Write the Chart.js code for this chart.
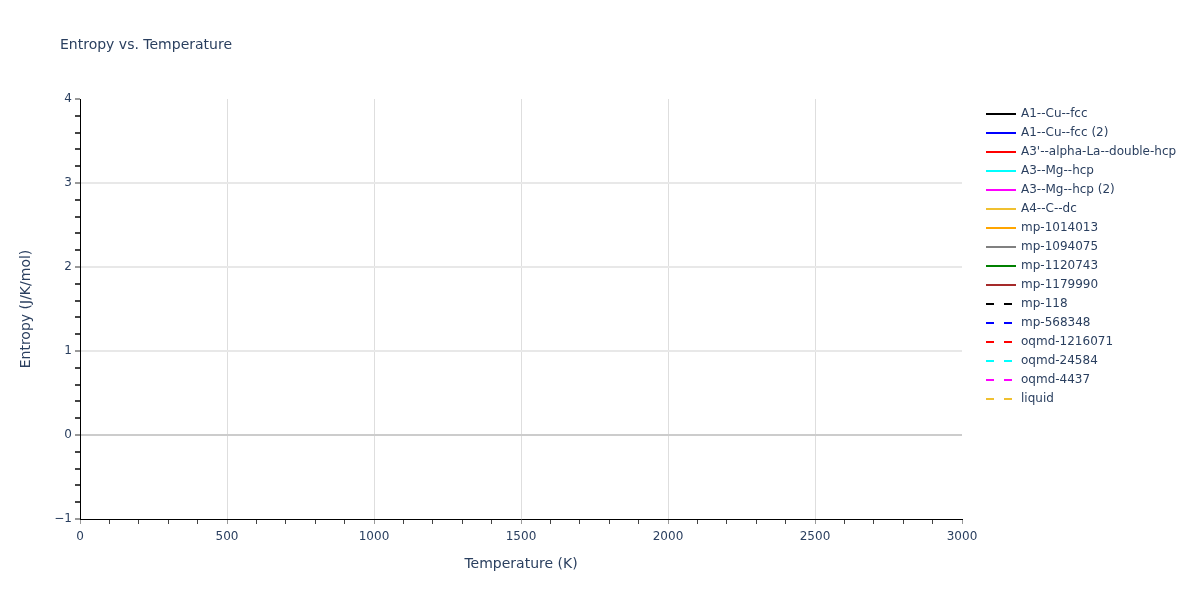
<!DOCTYPE html>
<html>
<head>
<meta charset="utf-8">
<script src="https://cdn.jsdelivr.net/npm/chart.js@4.4.0/dist/chart.umd.min.js"></script>
<style>
html,body{margin:0;padding:0;background:#fff;}
#wrap{width:1200px;height:600px;position:relative;}
</style>
</head>
<body>
<div id="wrap"><canvas id="c" width="1200" height="600"></canvas></div>
<script>
// ---- data ----
const chartTitle = "Entropy vs. Temperature";
const xTitle = "Temperature (K)";
const yTitle = "Entropy (J/K/mol)";
const seriesNames = ["A1--Cu--fcc","A1--Cu--fcc (2)","A3'--alpha-La--double-hcp","A3--Mg--hcp","A3--Mg--hcp (2)","A4--C--dc","mp-1014013","mp-1094075","mp-1120743","mp-1179990","mp-118","mp-568348","oqmd-1216071","oqmd-24584","oqmd-4437","liquid"];
const seriesColors = ["#000000","#0000ff","#ff0000","#00ffff","#ff00ff","#f0c030","#ffa500","#808080","#008000","#a52a2a","#000000","#0000ff","#ff0000","#00ffff","#ff00ff","#f0c030"];
const seriesDashed = [false,false,false,false,false,false,false,false,false,false,true,true,true,true,true,true];
// no values are visible in the reference plot area: every series is empty
const seriesTemps = seriesNames.map(() => []);
const seriesEntropy = seriesNames.map(() => []);
const xRange = [0, 3000];
const yRange = [-1, 4];

const textColor = "#2a3f5f";
const fontFam = "'DejaVu Sans', Verdana, sans-serif";

const datasets = seriesNames.map((n, i) => ({
  label: n,
  data: seriesTemps[i].map((t, j) => ({x: t, y: seriesEntropy[i][j]})),
  borderColor: seriesColors[i],
  backgroundColor: seriesColors[i],
  borderWidth: 2,
  borderDash: seriesDashed[i] ? [8, 10] : [],
  pointRadius: 0,
  fill: false
}));

const isInt = v => Math.abs(v - Math.round(v)) < 1e-6;

const overlay = {
  id: 'overlay',
  afterDraw(chart) {
    const ctx = chart.ctx;
    ctx.save();
    ctx.fillStyle = textColor;
    ctx.font = "14px " + fontFam;
    ctx.textBaseline = "middle";
    ctx.textAlign = "left";
    ctx.fillText(chartTitle, 60, 45);
    // legend
    ctx.font = "12px " + fontFam;
    chart.data.datasets.forEach((ds, i) => {
      const y = 114 + i * 19;
      ctx.beginPath();
      ctx.strokeStyle = ds.borderColor;
      ctx.lineWidth = 2;
      ctx.setLineDash(ds.borderDash || []);
      ctx.moveTo(986, y);
      ctx.lineTo(1016, y);
      ctx.stroke();
      ctx.setLineDash([]);
      ctx.fillStyle = textColor;
      ctx.fillText(ds.label, 1021, y);
    });
    ctx.restore();
  }
};

new Chart(document.getElementById('c'), {
  type: 'line',
  data: { datasets },
  options: {
    responsive: false,
    animation: false,
    layout: { padding: { top: 99, right: 238, left: 18, bottom: 27 } },
    plugins: { legend: { display: false }, title: { display: false }, tooltip: { enabled: false } },
    scales: {
      x: {
        type: 'linear', min: xRange[0], max: xRange[1],
        afterFit(s) { s.height = 54; },
        ticks: {
          stepSize: 100, autoSkip: false, maxRotation: 0,
          color: textColor, font: { size: 12, family: fontFam }, padding: 6,
          callback: v => (v % 500 === 0 ? String(v) : '')
        },
        grid: {
          tickLength: 5,
          color: c => (c.tick && c.tick.value % 500 === 0 && c.tick.value !== 0 && c.tick.value !== 3000) ? '#dedede' : 'rgba(0,0,0,0)',
          tickColor: c => (c.tick && c.tick.value % 500 === 0) ? '#999' : '#444'
        },
        border: { display: true, color: '#000', width: 1 },
        title: { display: true, text: xTitle, color: textColor, font: { size: 14, family: fontFam }, padding: 0 }
      },
      y: {
        type: 'linear', min: yRange[0], max: yRange[1],
        afterFit(s) { s.width = 62; },
        ticks: {
          stepSize: 0.2, autoSkip: false,
          color: textColor, font: { size: 12, family: fontFam }, padding: 3,
          callback: v => isInt(v) ? String(Math.round(v)).replace('-', '\u2212') : ''
        },
        grid: {
          tickLength: 5,
          color: c => {
            if (!c.tick) return 'rgba(0,0,0,0)';
            const v = Math.round(c.tick.value);
            if (!isInt(c.tick.value)) return 'rgba(0,0,0,0)';
            if (v === 0) return '#cccccc';
            if (v === -1 || v === 4) return 'rgba(0,0,0,0)';
            return '#e8e8e8';
          },
          lineWidth: 2,
          tickColor: c => (c.tick && isInt(c.tick.value)) ? '#999' : '#444'
        },
        border: { display: true, color: '#000', width: 1 },
        title: { display: true, text: yTitle, color: textColor, font: { size: 14, family: fontFam }, padding: 0 }
      }
    }
  },
  plugins: [overlay]
});
</script>
</body>
</html>
